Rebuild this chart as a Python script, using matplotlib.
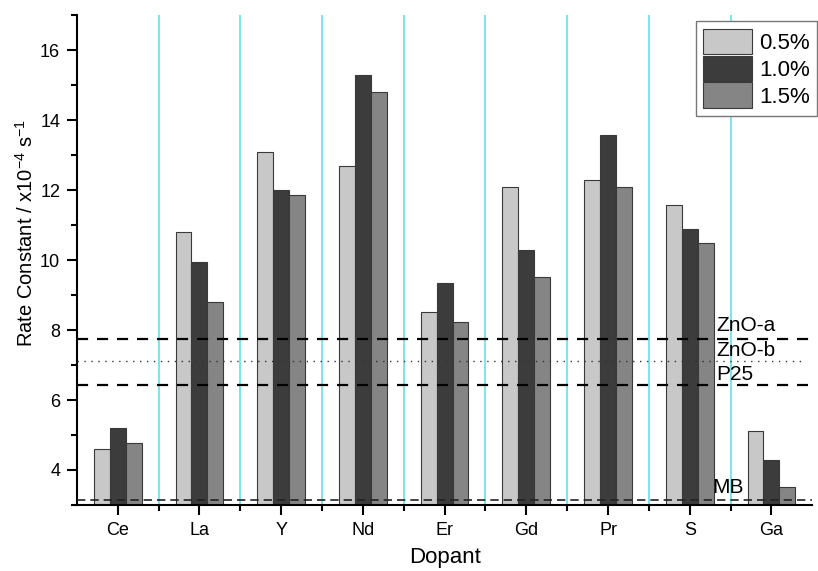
import numpy as np
import matplotlib.pyplot as plt
from matplotlib.ticker import MultipleLocator, FixedLocator

plt.rcParams['font.family'] = ['Liberation Sans', 'DejaVu Sans']
plt.rcParams['mathtext.default'] = 'regular'

dopants = ['Ce', 'La', 'Y', 'Nd', 'Er', 'Gd', 'Pr', 'S', 'Ga']
k_05 = [4.60, 10.80, 13.10, 12.68, 8.52, 12.10, 12.28, 11.58, 5.12]
k_10 = [5.20, 9.95, 12.00, 15.30, 9.33, 10.30, 13.58, 10.88, 4.30]
k_15 = [4.78, 8.80, 11.87, 14.80, 8.23, 9.52, 12.10, 10.48, 3.52]
loadings = ['0.5%', '1.0%', '1.5%']

# reference catalysts
ref_names = ['ZnO-a', 'ZnO-b', 'P25', 'MB']
ref_values = [7.75, 7.12, 6.42, 3.15]

fig = plt.figure(figsize=(8.18, 5.71), dpi=100)
ax = fig.add_axes([0.094, 0.1156, 0.899, 0.858])

x = np.arange(len(dopants))
w = 0.195
colors = ['#c8c8c8', '#3c3c3c', '#858585']
for i, (vals, c, lab) in enumerate(zip([k_05, k_10, k_15], colors, loadings)):
    ax.bar(x + (i - 1) * w, np.array(vals) - 3, w, bottom=3, color=c,
           edgecolor='#3a3a3a', linewidth=0.8, label=lab, zorder=2)

# separators between dopants
for xs in x[:-1] + 0.5:
    ax.axvline(xs, color='#6fe3ea', lw=1.3, zorder=1)

ax.plot([-0.5, 8.5], [ref_values[0]] * 2, ls=(0, (5, 4)), color='black', lw=1.6, zorder=3)
ax.plot([-0.5, 8.42], [ref_values[1]] * 2, ls=(0, (1, 4)), color='#333333', lw=1.0, zorder=3)
ax.plot([-0.5, 8.45], [ref_values[2]] * 2, ls=(0, (5, 4)), color='black', lw=1.6, zorder=3)
ax.plot([-0.5, 8.5], [ref_values[3]] * 2, ls=(0, (5, 3)), color='#222222', lw=1.2, zorder=3)

ax.text(7.33, ref_values[0] + 0.12, ref_names[0], fontsize=15, va='bottom', ha='left')
ax.text(7.33, ref_values[1] + 0.02, ref_names[1], fontsize=15, va='bottom', ha='left')
ax.text(7.33, ref_values[2] + 0.03, ref_names[2], fontsize=15, va='bottom', ha='left')
ax.text(7.28, ref_values[3] + 0.07, ref_names[3], fontsize=15, va='bottom', ha='left')

ax.set_xlim(-0.5, 8.5)
ax.set_ylim(3, 17)
ax.set_xticks(x)
ax.set_xticklabels(dopants)
ax.xaxis.set_minor_locator(FixedLocator(x[:-1] + 0.5))
ax.set_yticks([4, 6, 8, 10, 12, 14, 16])
ax.yaxis.set_minor_locator(MultipleLocator(1))
ax.tick_params(which='major', direction='out', length=7, width=1.5, labelsize=13, pad=5)
ax.tick_params(which='minor', direction='out', length=4, width=1.5)
for side in ['top', 'right']:
    ax.spines[side].set_visible(False)
for side in ['left', 'bottom']:
    ax.spines[side].set_linewidth(1.5)

ax.set_xlabel('Dopant', fontsize=16, labelpad=6)
ax.set_ylabel('Rate Constant / x10$^{-4}$ s$^{-1}$', fontsize=14.5)
ax.yaxis.set_label_coords(-0.054, 0.555)

leg = ax.legend(loc='upper right', bbox_to_anchor=(1.007, 0.988), fontsize=16,
                frameon=True, fancybox=False, edgecolor='#777777', framealpha=1,
                handlelength=2.2, handleheight=1.4, labelspacing=0.05,
                handletextpad=0.3, borderpad=0.35, borderaxespad=0)
leg.get_frame().set_linewidth(1.0)
leg.set_zorder(5)

fig.savefig('out.png', dpi=100)
